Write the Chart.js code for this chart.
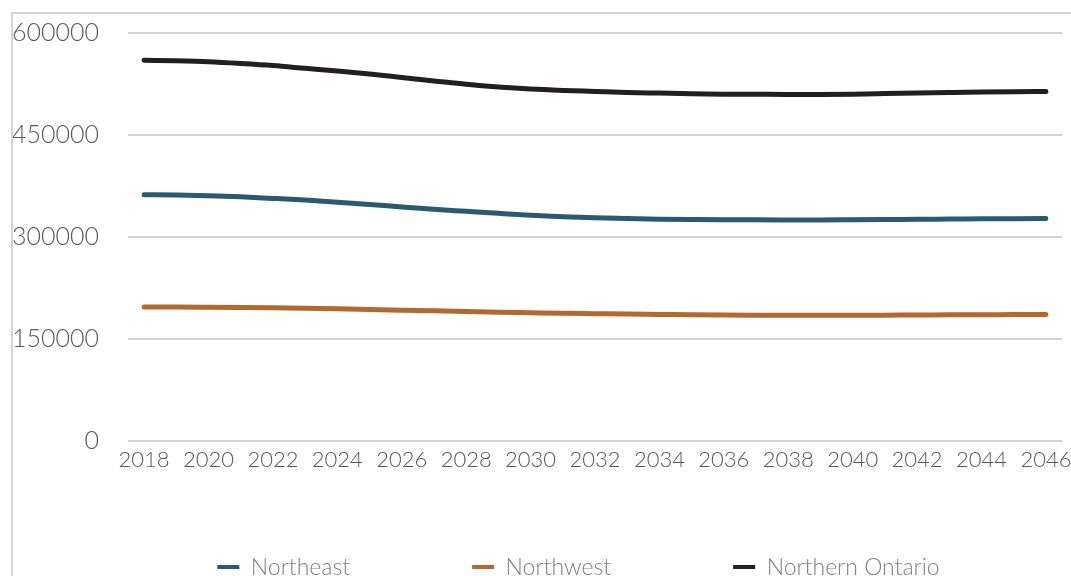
<!DOCTYPE html>
<html>
<head>
<meta charset="utf-8">
<script src="https://cdn.jsdelivr.net/npm/chart.js@4/dist/chart.umd.min.js"></script>
<style>
  html, body { margin: 0; padding: 0; background: #fff; overflow: hidden; }
  .frame {
    position: absolute; left: 11px; top: 12px;
    width: 1200px; height: 700px;
    border: 2px solid #d4d4d4;
  }
  .chart-box {
    position: absolute; left: 13px; top: 14px;
    width: 1100px; height: 612px;
  }
</style>
</head>
<body>
<div class="frame"></div>
<div class="chart-box"><canvas id="popChart"></canvas></div>
<script>
  // population projection by region, one value per year
  const years = [2018, 2019, 2020, 2021, 2022, 2023, 2024, 2025, 2026, 2027,
                 2028, 2029, 2030, 2031, 2032, 2033, 2034, 2035, 2036, 2037,
                 2038, 2039, 2040, 2041, 2042, 2043, 2044, 2045, 2046];

  const northeast = [362000, 361500, 360500, 358800, 356500, 354000, 351000, 347700, 344000, 340500,
                     337500, 334500, 331700, 329500, 327900, 326800, 326000, 325500, 325200, 325000,
                     324900, 324900, 325100, 325400, 325800, 326100, 326400, 326600, 326800];

  const northwest = [196500, 196500, 196300, 196000, 195500, 194800, 194000, 193000, 192000, 191000,
                     190000, 189000, 188200, 187400, 186800, 186200, 185700, 185200, 184800, 184500,
                     184400, 184400, 184500, 184700, 184900, 185100, 185300, 185500, 185700];

  const northernOntario = [560000, 559000, 557500, 555000, 552000, 548000, 544000, 539500, 534500, 529500,
                           524500, 520500, 517500, 515500, 514000, 512500, 511500, 510500, 510000, 509800,
                           509600, 509600, 510000, 510800, 511700, 512500, 513200, 513700, 514000];

  const yTicks = [0, 150000, 300000, 450000, 600000];

  const seriesNames = ['Northeast', 'Northwest', 'Northern Ontario'];
  const seriesColors = ['#295a73', '#b5682b', '#231f20'];

  const fontFace = "Lato, 'Open Sans', sans-serif";
  const legendGap = 122;

  function makeLine(i, values) {
    return {
      label: seriesNames[i],
      data: values,
      borderColor: seriesColors[i],
      backgroundColor: seriesColors[i],
      borderWidth: 5,
      borderCapStyle: 'round',
      pointRadius: 0,
      cubicInterpolationMode: 'monotone',
      fill: false
    };
  }

  // the legend sits right under the axis labels and a bit off-centre
  const legendPlacement = {
    id: 'legendPlacement',
    afterLayout(chart) {
      const lg = chart.legend;
      const h = lg.height;
      lg.top = chart.chartArea.bottom - (legendGap - 117) - 2;
      lg.bottom = lg.top + h;
      lg.left = 82;
    }
  };

  const ctx = document.getElementById('popChart');
  new Chart(ctx, {
    type: 'line',
    data: {
      labels: years,
      datasets: [
        makeLine(0, northeast),
        makeLine(1, northwest),
        makeLine(2, northernOntario)
      ]
    },
    options: {
      responsive: true,
      maintainAspectRatio: false,
      animation: false,
      layout: {
        padding: { left: 0, right: 51, top: 19, bottom: 0 }
      },
      scales: {
        x: {
          offset: true,
          grid: { display: false },
          border: { display: false },
          ticks: {
            autoSkip: false,
            maxRotation: 0,
            minRotation: 0,
            padding: -2,
            color: '#595959',
            font: { family: fontFace, size: 22, weight: 300 },
            // only every second year gets a label
            callback: function(value, index) {
              return index % 2 === 0 ? String(years[index]) : '';
            }
          }
        },
        y: {
          min: 0,
          max: 600000,
          grid: {
            color: '#d4d4d4',
            lineWidth: 2,
            drawTicks: false
          },
          border: { display: false },
          afterBuildTicks: function(scale) {
            scale.ticks = yTicks.map(v => ({ value: v }));
          },
          ticks: {
            padding: 29,
            color: '#595959',
            font: { family: fontFace, size: 25, weight: 300 },
            callback: function(value) {
              return String(value);
            }
          },
          afterFit: function(scale) {
            scale.width = 115;
            // keep the wide label gap from pushing the plot down
            scale.paddingTop = 15;
            scale.paddingBottom = 15;
          }
        }
      },
      plugins: {
        legend: {
          position: 'bottom',
          labels: {
            boxWidth: 22,
            boxHeight: 4,
            padding: legendGap,
            color: '#7f7f7f',
            font: { family: fontFace, size: 23, weight: 300 },
            generateLabels: function(chart) {
              const items = Chart.defaults.plugins.legend.labels.generateLabels(chart);
              items.forEach(item => { item.lineWidth = 0; });
              return items;
            }
          }
        },
        tooltip: { enabled: false }
      }
    },
    plugins: [legendPlacement]
  });
</script>
</body>
</html>
